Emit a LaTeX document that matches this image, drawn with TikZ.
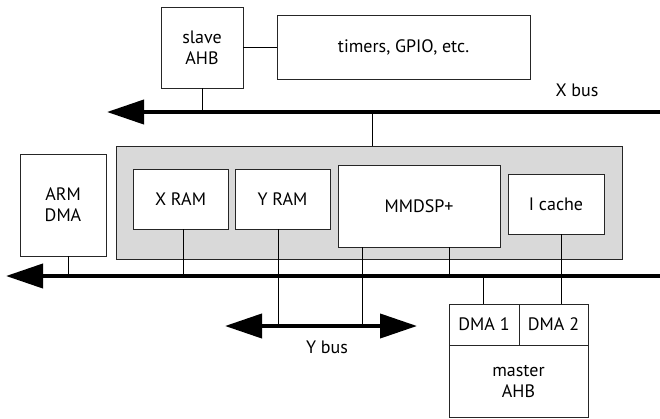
\documentclass[tikz,border=0pt]{standalone}
\usepackage{fontspec}
\setmainfont{PT Sans}
\usetikzlibrary{arrows.meta}
\pgfmathsetmacro{\xbusy}{112}
\pgfmathsetmacro{\hbusy}{276}
\pgfmathsetmacro{\ybusy}{326}
\tikzset{
  unit/.style={draw=black!85, line width=0.9pt, fill=white, align=center,
    inner sep=0pt, font=\fontsize{18}{21}\selectfont},
  wire/.style={line width=0.8pt},
  bus/.style={line width=4pt},
  bustip/.tip={Triangle[length=37pt, width=24pt]},
  label/.style={font=\fontsize{18}{21}\selectfont},
}

\begin{document}
\begin{tikzpicture}[x=1pt, y=-1pt]
    \useasboundingbox (0,0) rectangle (660,418);
    % define buses
    \coordinate (xbus_w) at (107,\xbusy);
    \coordinate (xbus_e) at (660,\xbusy);
    \coordinate (hbus_w) at (6,\hbusy);
    \coordinate (hbus_e) at (660,\hbusy);
    \coordinate (ybus_w) at (225,\ybusy);
    \coordinate (ybus_e) at (417,\ybusy);
    % bus taps
    \coordinate (xbus_dsp) at (372,\xbusy);
    \coordinate (hbus_arm) at (68,\hbusy);
    \coordinate (hbus_xram) at (183,\hbusy);
    \coordinate (hbus_mmdsp) at (449,\hbusy);
    \coordinate (hbus_dma) at (483,\hbusy);
    \coordinate (ybus_yram) at (278,\ybusy);
    \coordinate (ybus_mmdsp) at (362,\ybusy);
    \coordinate (icache_tap) at (561,\hbusy);
    % peripherals
    \node[unit, minimum width=82pt, minimum height=81pt] (slave_ahb) at (202,47.5) {slave\\AHB};
    \node[unit, minimum width=253pt, minimum height=64pt] (timers) at (403.5,47.5) {timers, GPIO, etc.};
    \node[unit, minimum width=86pt, minimum height=102pt] (arm_dma) at (63,205) {ARM\\DMA};
    % DSP subsystem
    \node[unit, fill=black!15, minimum width=506pt, minimum height=113pt] (dsp_sys) at (369,202.5) {};
    \node[unit, minimum width=95pt, minimum height=60pt] (x_ram) at (180.5,199) {X RAM};
    \node[unit, minimum width=95pt, minimum height=60pt] (y_ram) at (282.5,199) {Y RAM};
    \node[unit, minimum width=162pt, minimum height=82pt] (mmdsp) at (419,206) {MMDSP+};
    \node[unit, minimum width=96pt, minimum height=60pt] (icache) at (556,204) {I cache};
    % master AHB
    \node[unit, minimum width=70pt, minimum height=41pt] (dma1) at (484,324.5) {DMA 1};
    \node[unit, minimum width=69pt, minimum height=41pt] (dma2) at (553.5,324.5) {DMA 2};
    \node[unit, minimum width=139pt, minimum height=72pt] (master_ahb) at (518.5,381) {master\\AHB};
    % connections
    \draw[wire] (slave_ahb.east) -- (timers.west);
    \draw[wire] (slave_ahb.south) -- (slave_ahb.south |- xbus_w);
    \draw[wire] (xbus_dsp) -- (xbus_dsp |- dsp_sys.north);
    \draw[wire] (hbus_arm |- arm_dma.south) -- (hbus_arm);
    \draw[wire] (hbus_xram |- x_ram.south) -- (hbus_xram);
    \draw[wire] (ybus_yram |- y_ram.south) -- (ybus_yram);
    \draw[wire] (ybus_mmdsp |- mmdsp.south) -- (ybus_mmdsp);
    \draw[wire] (hbus_mmdsp |- mmdsp.south) -- (hbus_mmdsp);
    \draw[wire] (hbus_dma) -- (hbus_dma |- dma1.north);
    \draw[wire] (icache_tap |- icache.south) -- (icache_tap |- dma2.north);
    % buses
    \draw[bus, -bustip] (xbus_e) -- (xbus_w);
    \draw[bus, -bustip] (hbus_e) -- (hbus_w);
    \draw[bus, bustip-bustip] (ybus_w) -- (ybus_e);
    % add labels
    \node[label] (xbus_label) at (577,90) {X bus};
    \node[label] (ybus_label) at (327,347) {Y bus};
\end{tikzpicture}
\end{document}
